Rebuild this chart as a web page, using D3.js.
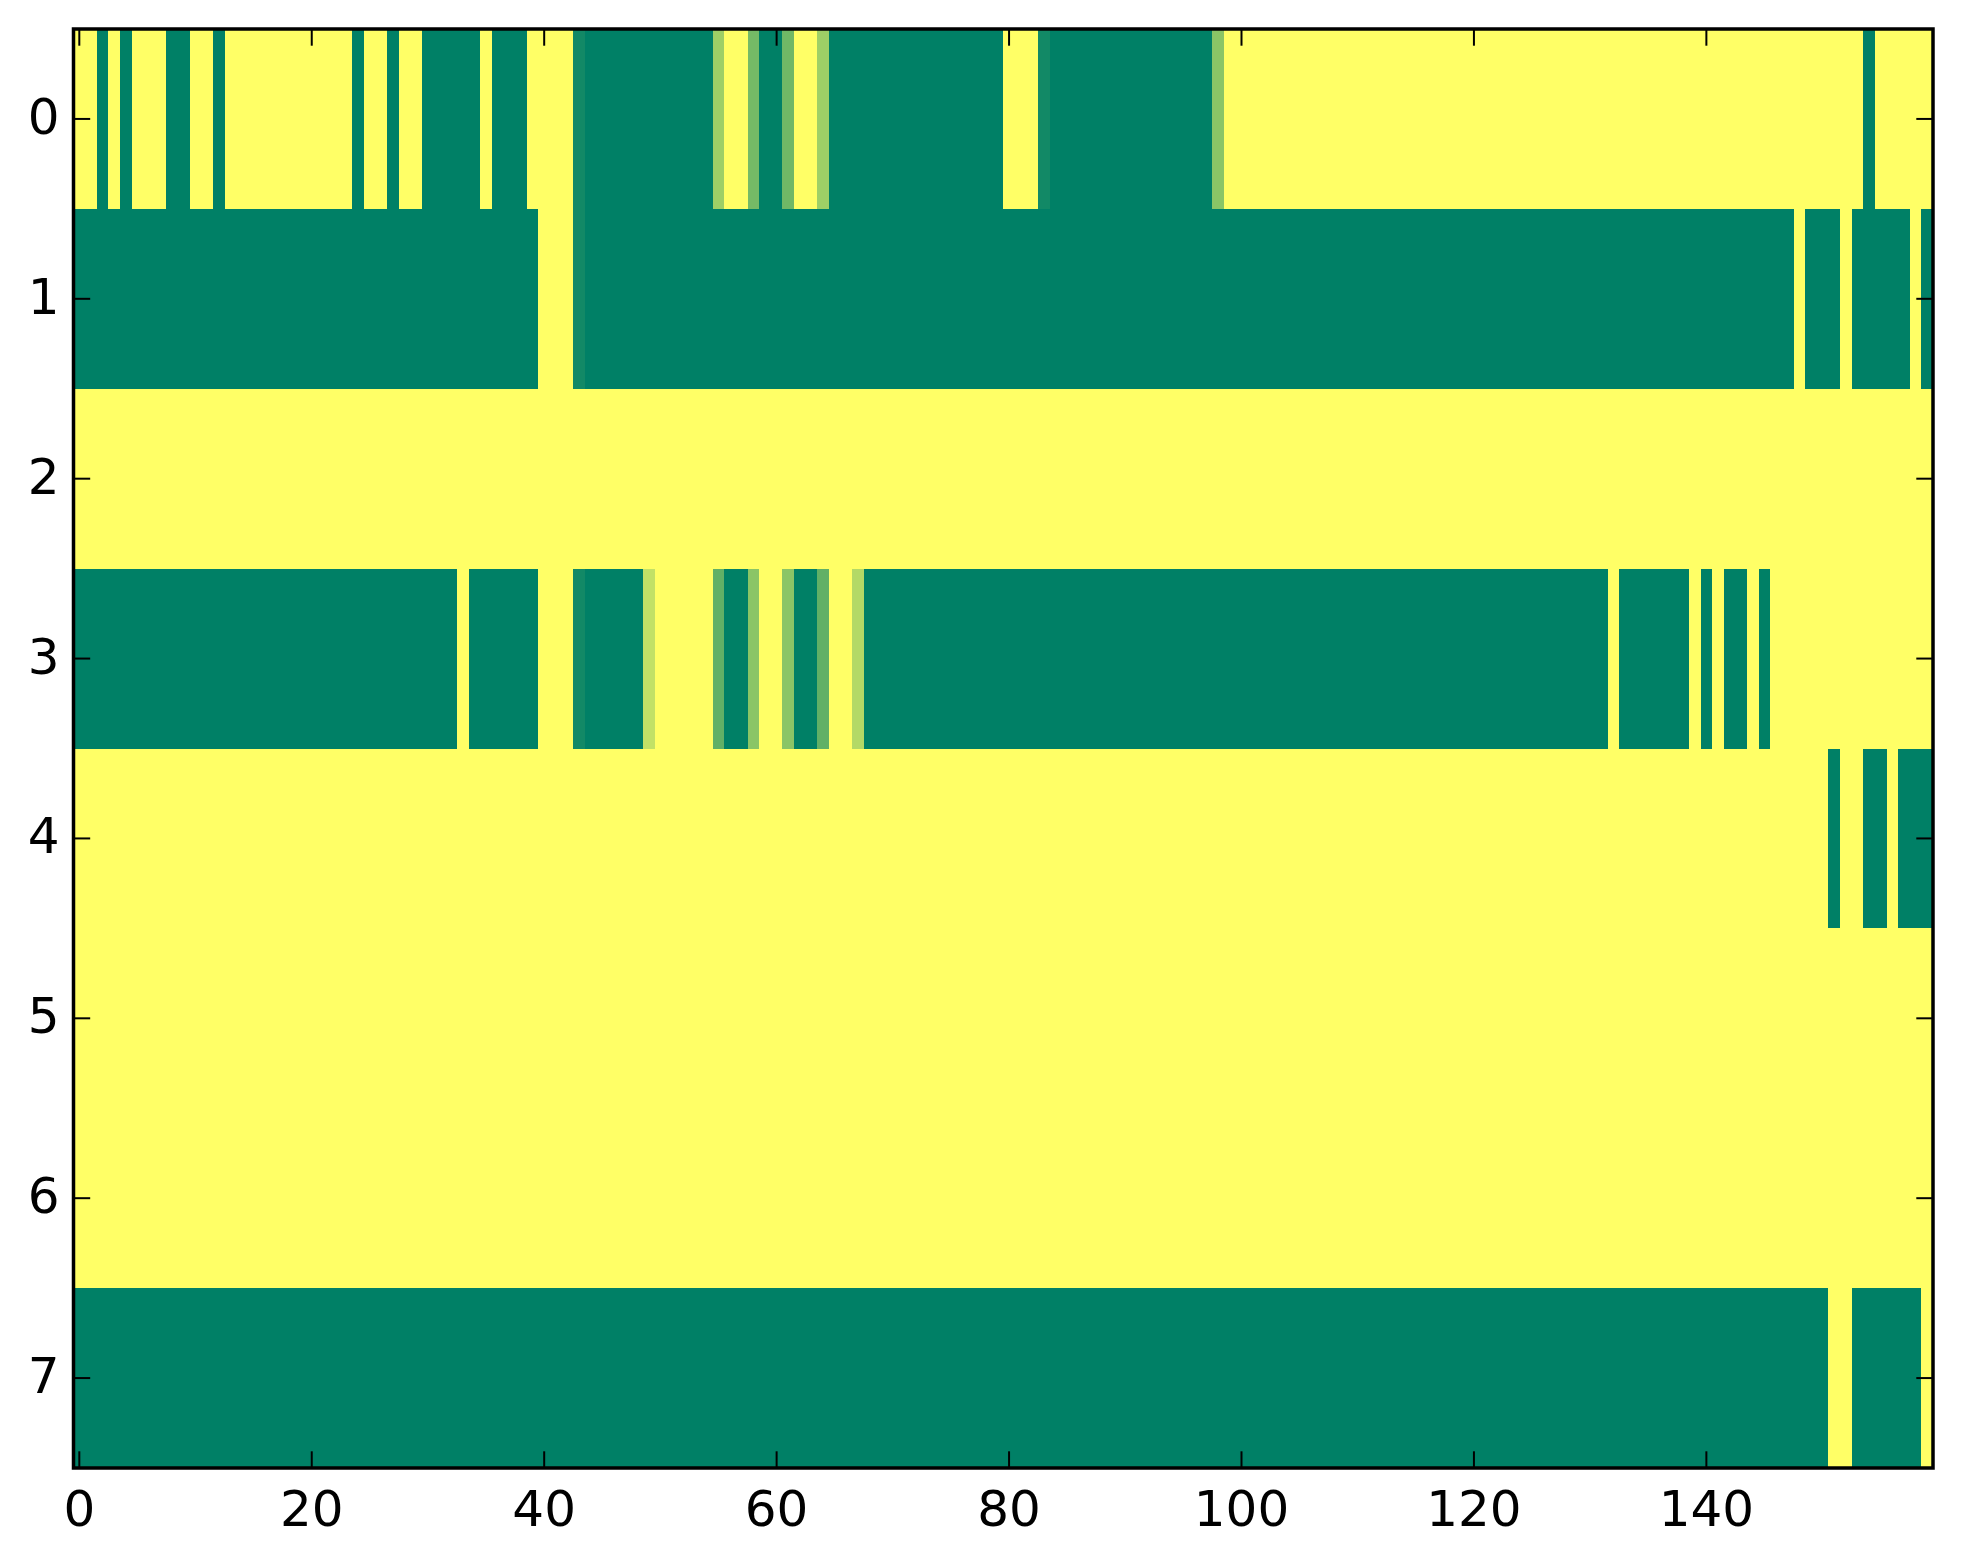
<!DOCTYPE html>
<html>
<head>
<meta charset="utf-8">
<script src="https://cdn.jsdelivr.net/npm/d3@7"></script>
<style>
  html, body { margin: 0; padding: 0; background: #ffffff; }
  svg { display: block; }
  text { font-family: "DejaVu Sans", sans-serif; }
</style>
</head>
<body>
<svg id="chart" width="1963" height="1564"></svg>
<script>
// ---- data (values 0 = green, 1 = yellow, "summer" colormap) ----
const rowLabels = ["0","1","2","3","4","5","6","7"];
const xTickValues = [0,20,40,60,80,100,120,140];

const row0 = [
  1,1,0,1,0,1,1,1,0,0,1,1,0,1,1,1,1,1,1,1,
  1,1,1,1,0,1,1,0,1,1,0,0,0,0,0,1,0,0,0,1,
  1,1,1,0.07,0,0,0,0,0,0,0,0,0,0,0,0.62,1,1,0.46,0,
  0,0.44,1,1,0.62,0,0,0,0,0,0,0,0,0,0,0,0,0,0,0,
  1,1,1,0.07,0,0,0,0,0,0,0,0,0,0,0,0,0,0,0.54,1,
  1,1,1,1,1,1,1,1,1,1,1,1,1,1,1,1,1,1,1,1,
  1,1,1,1,1,1,1,1,1,1,1,1,1,1,1,1,1,1,1,1,
  1,1,1,1,1,1,1,1,1,1,1,1,1,1,0,1,1,1,1,1
];
const row1 = [
  0,0,0,0,0,0,0,0,0,0,0,0,0,0,0,0,0,0,0,0,
  0,0,0,0,0,0,0,0,0,0,0,0,0,0,0,0,0,0,0,0,
  1,1,1,0.07,0,0,0,0,0,0,0,0,0,0,0,0,0,0,0,0,
  0,0,0,0,0,0,0,0,0,0,0,0,0,0,0,0,0,0,0,0,
  0,0,0,0,0,0,0,0,0,0,0,0,0,0,0,0,0,0,0,0,
  0,0,0,0,0,0,0,0,0,0,0,0,0,0,0,0,0,0,0,0,
  0,0,0,0,0,0,0,0,0,0,0,0,0,0,0,0,0,0,0,0,
  0,0,0,0,0,0,0,0,1,0,0,0,1,0,0,0,0,0,1,0
];
const row2 = [
  1,1,1,1,1,1,1,1,1,1,1,1,1,1,1,1,1,1,1,1,
  1,1,1,1,1,1,1,1,1,1,1,1,1,1,1,1,1,1,1,1,
  1,1,1,1,1,1,1,1,1,1,1,1,1,1,1,1,1,1,1,1,
  1,1,1,1,1,1,1,1,1,1,1,1,1,1,1,1,1,1,1,1,
  1,1,1,1,1,1,1,1,1,1,1,1,1,1,1,1,1,1,1,1,
  1,1,1,1,1,1,1,1,1,1,1,1,1,1,1,1,1,1,1,1,
  1,1,1,1,1,1,1,1,1,1,1,1,1,1,1,1,1,1,1,1,
  1,1,1,1,1,1,1,1,1,1,1,1,1,1,1,1,1,1,1,1
];
const row3 = [
  0,0,0,0,0,0,0,0,0,0,0,0,0,0,0,0,0,0,0,0,
  0,0,0,0,0,0,0,0,0,0,0,0,0,1,0,0,0,0,0,0,
  1,1,1,0.07,0,0,0,0,0,0.76,1,1,1,1,1,0.38,0,0,0.54,1,
  1,0.54,0,0,0.38,1,1,0.70,0,0,0,0,0,0,0,0,0,0,0,0,
  0,0,0,0,0,0,0,0,0,0,0,0,0,0,0,0,0,0,0,0,
  0,0,0,0,0,0,0,0,0,0,0,0,0,0,0,0,0,0,0,0,
  0,0,0,0,0,0,0,0,0,0,0,0,1,0,0,0,0,0,0,1,
  0,1,0,0,1,0,1,1,1,1,1,1,1,1,1,1,1,1,1,1
];
const row4 = [
  1,1,1,1,1,1,1,1,1,1,1,1,1,1,1,1,1,1,1,1,
  1,1,1,1,1,1,1,1,1,1,1,1,1,1,1,1,1,1,1,1,
  1,1,1,1,1,1,1,1,1,1,1,1,1,1,1,1,1,1,1,1,
  1,1,1,1,1,1,1,1,1,1,1,1,1,1,1,1,1,1,1,1,
  1,1,1,1,1,1,1,1,1,1,1,1,1,1,1,1,1,1,1,1,
  1,1,1,1,1,1,1,1,1,1,1,1,1,1,1,1,1,1,1,1,
  1,1,1,1,1,1,1,1,1,1,1,1,1,1,1,1,1,1,1,1,
  1,1,1,1,1,1,1,1,1,1,1,0,1,1,0,0,1,0,0,0
];
const row5 = [
  1,1,1,1,1,1,1,1,1,1,1,1,1,1,1,1,1,1,1,1,
  1,1,1,1,1,1,1,1,1,1,1,1,1,1,1,1,1,1,1,1,
  1,1,1,1,1,1,1,1,1,1,1,1,1,1,1,1,1,1,1,1,
  1,1,1,1,1,1,1,1,1,1,1,1,1,1,1,1,1,1,1,1,
  1,1,1,1,1,1,1,1,1,1,1,1,1,1,1,1,1,1,1,1,
  1,1,1,1,1,1,1,1,1,1,1,1,1,1,1,1,1,1,1,1,
  1,1,1,1,1,1,1,1,1,1,1,1,1,1,1,1,1,1,1,1,
  1,1,1,1,1,1,1,1,1,1,1,1,1,1,1,1,1,1,1,1
];
const row6 = [
  1,1,1,1,1,1,1,1,1,1,1,1,1,1,1,1,1,1,1,1,
  1,1,1,1,1,1,1,1,1,1,1,1,1,1,1,1,1,1,1,1,
  1,1,1,1,1,1,1,1,1,1,1,1,1,1,1,1,1,1,1,1,
  1,1,1,1,1,1,1,1,1,1,1,1,1,1,1,1,1,1,1,1,
  1,1,1,1,1,1,1,1,1,1,1,1,1,1,1,1,1,1,1,1,
  1,1,1,1,1,1,1,1,1,1,1,1,1,1,1,1,1,1,1,1,
  1,1,1,1,1,1,1,1,1,1,1,1,1,1,1,1,1,1,1,1,
  1,1,1,1,1,1,1,1,1,1,1,1,1,1,1,1,1,1,1,1
];
const row7 = [
  0,0,0,0,0,0,0,0,0,0,0,0,0,0,0,0,0,0,0,0,
  0,0,0,0,0,0,0,0,0,0,0,0,0,0,0,0,0,0,0,0,
  0,0,0,0,0,0,0,0,0,0,0,0,0,0,0,0,0,0,0,0,
  0,0,0,0,0,0,0,0,0,0,0,0,0,0,0,0,0,0,0,0,
  0,0,0,0,0,0,0,0,0,0,0,0,0,0,0,0,0,0,0,0,
  0,0,0,0,0,0,0,0,0,0,0,0,0,0,0,0,0,0,0,0,
  0,0,0,0,0,0,0,0,0,0,0,0,0,0,0,0,0,0,0,0,
  0,0,0,0,0,0,0,0,0,0,0,1,1,0,0,0,0,0,0,1
];
const rows = [row0,row1,row2,row3,row4,row5,row6,row7];

// ---- layout ----
const L = 73.5, R = 1933, T = 29, B = 1468;
const FONT = 50;

const svg = d3.select("#chart");
svg.append("rect").attr("width",1963).attr("height",1564).attr("fill","#ffffff");

const nCols = row0.length;
const x = d3.scaleLinear().domain([-0.5, nCols - 0.5]).range([L, R]);
const y = d3.scaleLinear().domain([-0.5, rows.length - 0.5]).range([T, B]);
// matplotlib "summer": (v, 0.5+0.5v, 0.4)
const color = d3.scaleLinear().domain([0,1]).range(["rgb(0,128,102)","rgb(255,255,102)"]);

const cells = [];
rows.forEach((r, ri) => r.forEach((v, ci) => cells.push({r: ri, c: ci, v})));

svg.append("g").selectAll("rect").data(cells).join("rect")
  .attr("x", d => x(d.c - 0.5))
  .attr("y", d => y(d.r - 0.5))
  .attr("width", d => x(d.c + 0.5) - x(d.c - 0.5) + 0.4)
  .attr("height", d => y(d.r + 0.5) - y(d.r - 0.5) + 0.4)
  .attr("fill", d => color(d.v))
  .attr("shape-rendering", "crispEdges");

// ---- ticks (inward, all four sides) ----
const TL = 16.7, TW = 2;
const tickG = svg.append("g").attr("stroke","#000").attr("stroke-width",TW);
xTickValues.forEach(v => {
  tickG.append("line").attr("x1",x(v)).attr("x2",x(v)).attr("y1",B).attr("y2",B-TL);
  tickG.append("line").attr("x1",x(v)).attr("x2",x(v)).attr("y1",T).attr("y2",T+TL);
});
rowLabels.forEach((lab, i) => {
  tickG.append("line").attr("x1",L).attr("x2",L+TL).attr("y1",y(i)).attr("y2",y(i));
  tickG.append("line").attr("x1",R).attr("x2",R-TL).attr("y1",y(i)).attr("y2",y(i));
});

// ---- spines ----
svg.append("rect")
  .attr("x", L).attr("y", T).attr("width", R - L).attr("height", B - T)
  .attr("fill","none").attr("stroke","#000").attr("stroke-width",3.5);

// ---- tick labels ----
svg.append("g").selectAll("text").data(xTickValues).join("text")
  .attr("x", d => x(d)).attr("y", 1526)
  .attr("text-anchor","middle").attr("font-size",FONT).attr("fill","#000")
  .text(d => String(d));

svg.append("g").selectAll("text").data(rowLabels).join("text")
  .attr("x", 59.5).attr("y", (d,i) => y(i) + 15)
  .attr("text-anchor","end").attr("font-size",FONT).attr("fill","#000")
  .text(d => d);
</script>
</body>
</html>
